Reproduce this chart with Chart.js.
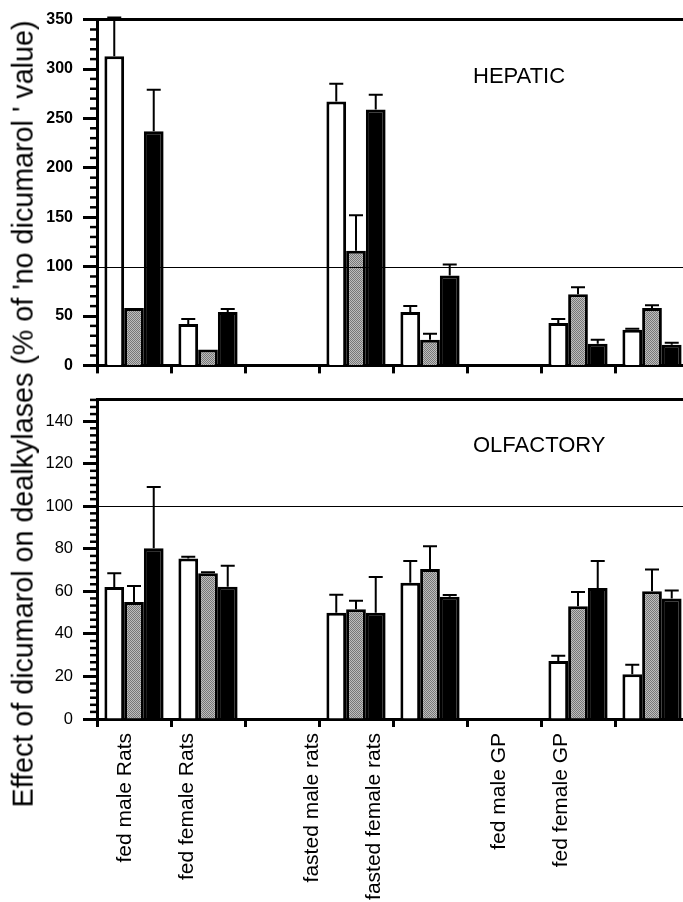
<!DOCTYPE html>
<html>
<head>
<meta charset="utf-8">
<title>Effect of dicumarol on dealkylases</title>
<script src="https://cdn.jsdelivr.net/npm/chart.js@4.4.1/dist/chart.umd.min.js"></script>
<style>
  html, body { margin: 0; padding: 0; background: #fff; overflow: hidden; }
  #wrap { position: relative; width: 683px; height: 902px; overflow: hidden; font-family: 'Liberation Sans', Arial, sans-serif; color: #000; }
  canvas { position: absolute; left: 0; }
  #hepaticChart { top: 0; }
  #olfactoryChart { top: 380px; }
  .panel-label { position: absolute; left: 473px; font-size: 22px; line-height: 22px; white-space: nowrap; }
  #yTitle { position: absolute; left: 23px; top: 414px; font-size: 28.7px; line-height: 28.7px; white-space: nowrap; transform: translate(-50%, -50%) rotate(-90deg); }
</style>
</head>
<body>
<div id="wrap">
  <canvas id="hepaticChart" width="700" height="385"></canvas>
  <canvas id="olfactoryChart" width="700" height="522"></canvas>
  <div class="panel-label" style="top:65px">HEPATIC</div>
  <div class="panel-label" style="top:434px">OLFACTORY</div>
  <div id="yTitle">Effect of dicumarol on dealkylases (% of 'no dicumarol ' value)</div>
</div>
<script>
// 1. DATA
const groups = ['fed male Rats', 'fed female Rats', '', 'fasted male rats', 'fasted female rats', '', 'fed male GP', 'fed female GP'];

// hepatic panel
const hepWhite    = [313, 42, null, 267, 54, null, 43, 36];
const hepWhiteErr = [39, 5, null, 18, 6, null, 4, 1];
const hepGrey     = [58, 16, null, 116, 26, null, 72, 58];
const hepGreyErr  = [0, 0, null, 36, 6, null, 7, 3];
const hepBlack    = [237, 54, null, 259, 91, null, 22, 21];
const hepBlackErr = [42, 3, null, 15, 11, null, 4, 2];

// olfactory panel
const olfWhite    = [62, 75.5, null, 50, 64, null, 27.3, 21];
const olfWhiteErr = [6.5, 0.8, null, 8.4, 10.3, null, 2.4, 4.5];
const olfGrey     = [55, 68.5, null, 51.6, 70.5, null, 53, 60];
const olfGreyErr  = [7.5, 0.5, null, 4, 10.7, null, 6.7, 10.3];
const olfBlack    = [80.3, 62.2, null, 50, 57.5, null, 61.6, 56.7];
const olfBlackErr = [28.7, 9.8, null, 16.8, 0.8, null, 12.7, 3.7];

Chart.defaults.font.family = "'Liberation Sans', Arial, sans-serif";
Chart.defaults.color = '#000';

// 2. STIPPLED GREY FILL
function stipple() {
    const c = document.createElement('canvas');
    c.width = 2; c.height = 2;
    const g = c.getContext('2d');
    g.fillStyle = '#bdbdbd'; g.fillRect(0, 0, 2, 2);
    g.fillStyle = '#777'; g.fillRect(0, 0, 1, 1); g.fillRect(1, 1, 1, 1);
    return g.createPattern(c, 'repeat');
}
const greyFill = stipple();

// 3. PLUGINS (error bars, 100% line, minor ticks)
const errorBars = {
    id: 'errorBars',
    afterDatasetsDraw(chart, args, opts) {
        const ctx = chart.ctx, y = chart.scales.y;
        ctx.save();
        ctx.strokeStyle = '#000';
        ctx.lineWidth = opts.width;
        chart.data.datasets.forEach((ds, i) => {
            chart.getDatasetMeta(i).data.forEach((bar, j) => {
                const v = ds.data[j], e = ds.errors ? ds.errors[j] : 0;
                if (v == null || !e) return;
                const top = y.getPixelForValue(v + e);
                ctx.beginPath();
                ctx.moveTo(bar.x, bar.y);
                ctx.lineTo(bar.x, top);
                ctx.moveTo(bar.x - opts.cap / 2, top);
                ctx.lineTo(bar.x + opts.cap / 2, top);
                ctx.stroke();
            });
        });
        ctx.restore();
    }
};

const refLine = {
    id: 'refLine',
    afterDatasetsDraw(chart, args, opts) {
        const ctx = chart.ctx, a = chart.chartArea;
        const py = Math.round(chart.scales.y.getPixelForValue(opts.value)) + 0.5;
        ctx.save();
        ctx.strokeStyle = '#000';
        ctx.lineWidth = 1.2;
        ctx.beginPath();
        ctx.moveTo(a.left, py);
        ctx.lineTo(a.right, py);
        ctx.stroke();
        ctx.restore();
    }
};

const minorTicks = {
    id: 'minorTicks',
    afterDraw(chart, args, opts) {
        const ctx = chart.ctx, y = chart.scales.y;
        ctx.save();
        ctx.strokeStyle = '#000';
        ctx.lineWidth = 2.5;
        for (let i = 1; y.min + i * opts.step <= y.max + 1e-6; i++) {
            if (i % opts.perMajor === 0) continue;
            const py = y.getPixelForValue(y.min + i * opts.step);
            ctx.beginPath();
            ctx.moveTo(y.right - opts.length, py);
            ctx.lineTo(y.right, py);
            ctx.stroke();
        }
        ctx.restore();
    }
};

// 4. PANEL BUILDER
function makePanel(id, sets, yOpts, extra) {
    const scales = {
        x: {
            type: 'category',
            position: 'bottom',
            border: { color: '#000', width: 3 },
            grid: { offset: true, drawOnChartArea: false, drawTicks: true, tickLength: 8, tickWidth: 3, color: '#000' },
            ticks: { display: false, autoSkip: false },
            afterFit: s => { s.height = extra.xHeight; }
        },
        xt: {
            type: 'category',
            position: 'top',
            border: { color: '#000', width: 3 },
            grid: { display: false },
            ticks: { display: false },
            afterFit: s => { s.height = 0; }
        },
        y: {
            min: yOpts.min,
            max: yOpts.max,
            border: { color: '#000', width: 3 },
            grid: { drawOnChartArea: false, drawTicks: true, tickLength: 14, tickWidth: 3, color: '#000' },
            ticks: { stepSize: yOpts.step, includeBounds: false, padding: 10, font: yOpts.font, color: '#000' },
            afterFit: s => { s.width = 97; }
        }
    };
    if (extra.labels) {
        // group names sit on a narrower spacing than the bar groups in the original figure
        scales.xl = {
            type: 'linear',
            position: 'bottom',
            weight: 1,
            bounds: 'data',
            offset: false,
            min: -0.45,
            max: 9.05,
            border: { display: false },
            grid: { display: false, drawTicks: false },
            afterBuildTicks: s => { s.ticks = groups.map((g, i) => g ? { value: i } : null).filter(Boolean); },
            ticks: {
                autoSkip: false, minRotation: 90, maxRotation: 90, padding: 2,
                font: { size: 21 }, color: '#000',
                callback: v => groups[v]
            },
            afterFit: s => { s.height = extra.labelHeight; }
        };
    }
    return new Chart(document.getElementById(id), {
        type: 'bar',
        data: {
            labels: groups,
            datasets: [
                { label: 'white', data: sets[0], errors: sets[1], backgroundColor: '#fff', borderColor: '#000', borderWidth: 3 },
                { label: 'stippled', data: sets[2], errors: sets[3], backgroundColor: greyFill, borderColor: '#000', borderWidth: 3 },
                { label: 'black', data: sets[4], errors: sets[5], backgroundColor: '#000', borderColor: '#000', borderWidth: 3 }
            ]
        },
        options: {
            responsive: false,
            animation: false,
            layout: { padding: { top: extra.top, right: 11, left: 0, bottom: 0 } },
            datasets: { bar: { categoryPercentage: 0.8, barPercentage: 1 } },
            scales: scales,
            plugins: {
                legend: { display: false },
                tooltip: { enabled: false },
                errorBars: { width: 2, cap: 14 },
                refLine: { value: 100 },
                minorTicks: { step: yOpts.minor, perMajor: yOpts.perMajor, length: 7 }
            }
        },
        plugins: [refLine, errorBars, minorTicks]
    });
}

makePanel('hepaticChart',
    [hepWhite, hepWhiteErr, hepGrey, hepGreyErr, hepBlack, hepBlackErr],
    { min: 0, max: 350, step: 50, minor: 10, perMajor: 5, font: { size: 16, weight: 'bold' } },
    { top: 19, xHeight: 15 });

makePanel('olfactoryChart',
    [olfWhite, olfWhiteErr, olfGrey, olfGreyErr, olfBlack, olfBlackErr],
    { min: 0, max: 150, step: 20, minor: 20 / 6, perMajor: 6, font: { size: 16.5 } },
    { top: 9, xHeight: 12, labels: true, labelHeight: 171 });
</script>
</body>
</html>
